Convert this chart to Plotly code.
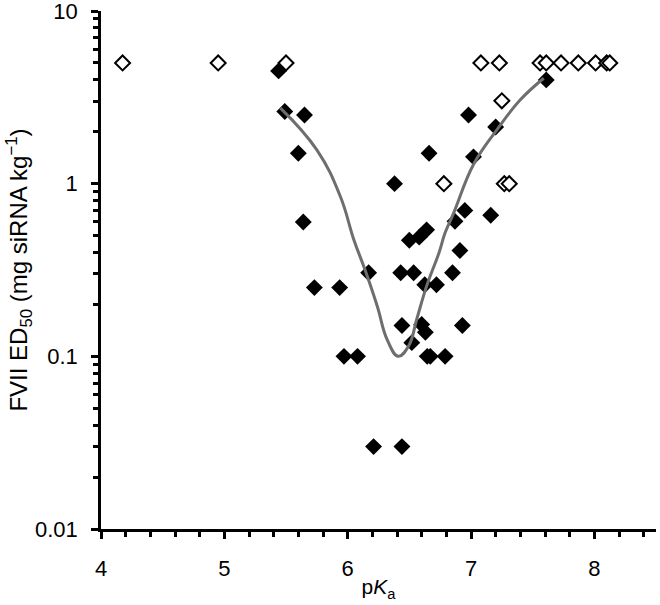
import plotly.graph_objects as go

# Filled diamonds (measured compounds)
filled_pka = [5.44, 5.49, 5.65, 5.60, 5.64, 5.73, 5.935, 5.97, 6.08, 6.17, 6.21, 6.38,
              6.43, 6.535, 6.44, 6.44, 6.50, 6.58, 6.64, 6.52, 6.60, 6.63, 6.625, 6.72,
              6.645, 6.67, 6.79, 6.66, 6.85, 6.91, 6.93, 6.87, 6.95, 7.16, 7.02, 6.98,
              7.20, 7.61]
filled_ed50 = [4.5, 2.62, 2.5, 1.5, 0.6, 0.25, 0.25, 0.1, 0.1, 0.305, 0.03, 1.0,
               0.305, 0.305, 0.151, 0.03, 0.47, 0.49, 0.54, 0.12, 0.153, 0.138, 0.26, 0.26,
               0.1, 0.1, 0.1, 1.5, 0.305, 0.41, 0.151, 0.605, 0.70, 0.656, 1.43, 2.5,
               2.13, 3.99]

# Open diamonds
open_pka = [4.175, 4.95, 5.50, 7.08, 7.23, 7.56, 7.61, 7.73, 7.87, 8.01, 8.10, 8.125,
            7.25, 6.78, 7.27, 7.31]
open_ed50 = [5, 5, 5, 5, 5, 5, 5, 5, 5, 5, 5, 5, 3.02, 1.0, 1.0, 1.0]

# Fitted curve
curve_pka = [5.455, 5.75, 5.94, 6.05, 6.14, 6.24, 6.32, 6.41, 6.495, 6.56, 6.64,
             6.74, 6.79, 6.86, 7.02, 7.21, 7.40, 7.59]
curve_ed50 = [2.74, 1.57, 0.845, 0.474, 0.318, 0.195, 0.125, 0.1, 0.115, 0.164, 0.255,
              0.397, 0.519, 0.677, 1.29, 2.05, 3.06, 4.08]

x_ticks = [4, 5, 6, 7, 8]
y_ticks = [0.01, 0.1, 1, 10]
y_ticktext = ["0.01", "0.1", "1", "10"]

FONT = "Arial, Liberation Sans, sans-serif"

fig = go.Figure()
fig.add_trace(go.Scatter(
    x=filled_pka, y=filled_ed50, mode="markers",
    marker=dict(symbol="diamond", size=13, color="black", line=dict(width=0)),
    showlegend=False, hoverinfo="skip"))
fig.add_trace(go.Scatter(
    x=curve_pka, y=curve_ed50, mode="lines",
    line=dict(color="#6e6e6e", width=3, shape="spline", smoothing=1.2),
    showlegend=False, hoverinfo="skip"))
fig.add_trace(go.Scatter(
    x=open_pka, y=open_ed50, mode="markers",
    marker=dict(symbol="diamond", size=11.5, color="white", line=dict(width=2, color="black")),
    showlegend=False, hoverinfo="skip"))

minor_y = [m * 10 ** e for e in (-2, -1, 0) for m in range(2, 10)]

fig.update_layout(
    width=660, height=605,
    margin=dict(l=101, r=4, t=11, b=76),
    paper_bgcolor="white", plot_bgcolor="white",
    font=dict(family=FONT, size=22, color="black"),
    xaxis=dict(
        range=[4, 8.5], tickvals=x_ticks, ticktext=[str(v) for v in x_ticks],
        automargin=False, ticklabeloverflow="allow",
        showgrid=False, zeroline=False, showline=True, linecolor="black", linewidth=2.5,
        ticks="outside", ticklen=7, tickwidth=2.5, tickcolor="black",
        minor=dict(dtick=0.2, ticks="outside", ticklen=5, tickwidth=2.5, tickcolor="black", showgrid=False),
        ticklabelstandoff=11,
        title=dict(text="p<i>K</i><sub>a</sub>", standoff=0, font=dict(size=21)),
    ),
    yaxis=dict(
        type="log", range=[-2, 1], tickvals=y_ticks, ticktext=y_ticktext,
        automargin=False, ticklabeloverflow="allow",
        showgrid=False, zeroline=False, showline=True, linecolor="black", linewidth=2.5,
        ticks="outside", ticklen=7, tickwidth=2.5, tickcolor="black",
        minor=dict(tickvals=minor_y, ticks="outside", ticklen=5, tickwidth=2.5, tickcolor="black", showgrid=False),
        ticklabelstandoff=9,
        title=dict(text="FVII ED<sub>50</sub> (mg siRNA kg<sup>−1</sup>)", standoff=1, font=dict(size=24)),
    ),
)

fig.write_html("out.html", config={"displayModeBar": False},
               post_script="document.body.style.margin='0';")
